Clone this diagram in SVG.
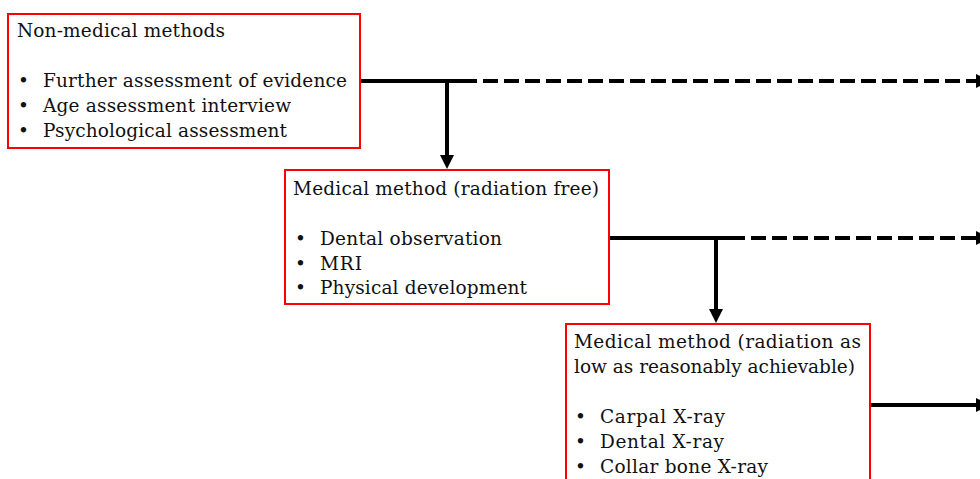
<svg xmlns="http://www.w3.org/2000/svg" width="980" height="479" viewBox="0 0 980 479">
  <style>
    .box { fill: #ffffff; stroke: #ff0000; stroke-width: 2; }
    .txt { font-family: "DejaVu Serif", "Liberation Serif", serif; font-size: 18.5px; fill: #111111; }
    .link { fill: none; stroke: #000000; stroke-width: 4; }
    .dash { stroke-dasharray: 15 6; }
  </style>
  <defs>
    <marker id="head" markerUnits="userSpaceOnUse" markerWidth="14" markerHeight="14" refX="0" refY="7" orient="auto">
      <path d="M0,0 L14,7 L0,14 Z" fill="#000000"/>
    </marker>
  </defs>
  <rect width="980" height="479" fill="#ffffff"/>

  <g id="connectors">
    <!-- from non-medical methods -->
    <path class="link" d="M360,81 H462"/>
    <path class="link dash" d="M462,81 H976" marker-end="url(#head)"/>
    <path class="link" d="M447,81 V155" marker-end="url(#head)"/>
    <!-- from radiation-free methods -->
    <path class="link" d="M609,238 H730"/>
    <path class="link dash" d="M730,238 H976" marker-end="url(#head)"/>
    <path class="link" d="M716,238 V309" marker-end="url(#head)"/>
    <!-- from low-radiation methods -->
    <path class="link" d="M870,405 H976" marker-end="url(#head)"/>
  </g>

  <g id="non-medical">
    <rect class="box" x="8" y="14" width="352" height="134"/>
    <text class="txt" x="17" y="37" textLength="208" lengthAdjust="spacing">Non-medical methods</text>
    <text class="txt" x="18" y="87">•</text>
    <text class="txt" x="43" y="87" textLength="304" lengthAdjust="spacing">Further assessment of evidence</text>
    <text class="txt" x="18" y="112">•</text>
    <text class="txt" x="43" y="112" textLength="248" lengthAdjust="spacing">Age assessment interview</text>
    <text class="txt" x="18" y="137">•</text>
    <text class="txt" x="43" y="137" textLength="244" lengthAdjust="spacing">Psychological assessment</text>
  </g>

  <g id="radiation-free">
    <rect class="box" x="285" y="170" width="324" height="134"/>
    <text class="txt" x="293" y="195" textLength="306" lengthAdjust="spacing">Medical method (radiation free)</text>
    <text class="txt" x="295" y="245">•</text>
    <text class="txt" x="320" y="245" textLength="182" lengthAdjust="spacing">Dental observation</text>
    <text class="txt" x="295" y="270">•</text>
    <text class="txt" x="320" y="270" textLength="42" lengthAdjust="spacing">MRI</text>
    <text class="txt" x="295" y="294">•</text>
    <text class="txt" x="320" y="294" textLength="207" lengthAdjust="spacing">Physical development</text>
  </g>

  <g id="low-radiation">
    <rect class="box" x="566" y="324" width="304" height="200"/>
    <text class="txt" x="574" y="348" textLength="287" lengthAdjust="spacing">Medical method (radiation as</text>
    <text class="txt" x="574" y="373" textLength="281" lengthAdjust="spacing">low as reasonably achievable)</text>
    <text class="txt" x="575" y="423">•</text>
    <text class="txt" x="600" y="423" textLength="125" lengthAdjust="spacing">Carpal X-ray</text>
    <text class="txt" x="575" y="448">•</text>
    <text class="txt" x="600" y="448" textLength="124" lengthAdjust="spacing">Dental X-ray</text>
    <text class="txt" x="575" y="473">•</text>
    <text class="txt" x="600" y="473" textLength="168" lengthAdjust="spacing">Collar bone X-ray</text>
  </g>
</svg>
